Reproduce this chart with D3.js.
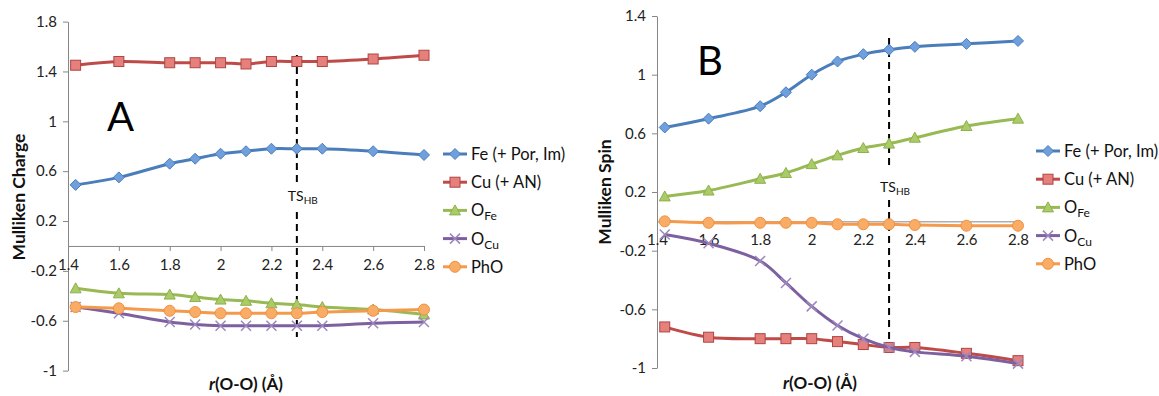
<!DOCTYPE html>
<html>
<head>
<meta charset="utf-8">
<script src="https://cdn.jsdelivr.net/npm/d3@7"></script>
<style>
  body { margin: 0; background: #fff; }
  text { font-family: Lato, "Open Sans", sans-serif; }
</style>
</head>
<body>
<div id="chart"></div>
<script>
// O-O distance (Å)
var rOO = [1.43, 1.6, 1.8, 1.9, 2.0, 2.1, 2.2, 2.3, 2.4, 2.6, 2.8];

// panel A: Mulliken charge
var chargeFe  = [0.49, 0.55, 0.66, 0.70, 0.74, 0.76, 0.78, 0.78, 0.78, 0.76, 0.73];
var chargeCu  = [1.45, 1.48, 1.47, 1.47, 1.47, 1.46, 1.48, 1.48, 1.48, 1.50, 1.53];
var chargeOFe = [-0.34, -0.38, -0.39, -0.41, -0.43, -0.44, -0.46, -0.47, -0.49, -0.51, -0.55];
var chargeOCu = [-0.49, -0.54, -0.61, -0.63, -0.64, -0.64, -0.64, -0.64, -0.64, -0.62, -0.61];
var chargePhO = [-0.49, -0.50, -0.52, -0.53, -0.54, -0.54, -0.54, -0.54, -0.53, -0.52, -0.51];

// panel B: Mulliken spin
var spinFe  = [0.64, 0.70, 0.785, 0.88, 1.0, 1.09, 1.14, 1.17, 1.19, 1.21, 1.23];
var spinCu  = [-0.72, -0.79, -0.80, -0.80, -0.80, -0.82, -0.84, -0.86, -0.86, -0.90, -0.95];
var spinOFe = [0.17, 0.21, 0.29, 0.33, 0.39, 0.45, 0.50, 0.53, 0.57, 0.65, 0.70];
var spinOCu = [-0.09, -0.15, -0.27, -0.42, -0.58, -0.71, -0.80, -0.86, -0.89, -0.92, -0.97];
var spinPhO = [0.0, -0.01, -0.01, -0.01, -0.01, -0.02, -0.02, -0.02, -0.025, -0.03, -0.03];

var xTicks = [1.4, 1.6, 1.8, 2.0, 2.2, 2.4, 2.6, 2.8];
var chargeTicks = [-1, -0.6, -0.2, 0.2, 0.6, 1, 1.4, 1.8];
var spinTicks = [-1, -0.6, -0.2, 0.2, 0.6, 1, 1.4];
var tsPosition = 2.3;

var seriesNames = ["Fe", "Cu", "OFe", "OCu", "PhO"];

var styles = {
  Fe:  { line: "#4a7ebb", fill: "#6f9fdc", stroke: "#4a7ebb", shape: "diamond" },
  Cu:  { line: "#be4b48", fill: "#e5807d", stroke: "#b04542", shape: "square" },
  OFe: { line: "#98b954", fill: "#a9cb68", stroke: "#8fb04c", shape: "triangle" },
  OCu: { line: "#7d60a0", fill: "none",    stroke: "#9d87bd", shape: "x" },
  PhO: { line: "#f59a4d", fill: "#f9ac66", stroke: "#f0913f", shape: "circle" }
};

var svg = d3.select("#chart").append("svg")
  .attr("width", 1159)
  .attr("height", 396);

function drawMarker(g, shape, st) {
  if (shape === "diamond") {
    g.append("path").attr("d", "M0,-5.5L5.5,0L0,5.5L-5.5,0Z")
      .attr("fill", st.fill).attr("stroke", st.stroke).attr("stroke-width", 1);
  } else if (shape === "square") {
    g.append("rect").attr("x", -5).attr("y", -5).attr("width", 10).attr("height", 10)
      .attr("fill", st.fill).attr("stroke", st.stroke).attr("stroke-width", 1);
  } else if (shape === "triangle") {
    g.append("path").attr("d", "M0,-5.5L5.5,4.5L-5.5,4.5Z")
      .attr("fill", st.fill).attr("stroke", st.stroke).attr("stroke-width", 1);
  } else if (shape === "x") {
    g.append("path").attr("d", "M-5,-5L5,5M5,-5L-5,5")
      .attr("stroke", st.stroke).attr("stroke-width", 1.5);
  } else {
    g.append("circle").attr("r", 5.5)
      .attr("fill", st.fill).attr("stroke", st.stroke).attr("stroke-width", 1);
  }
}

function drawPanel(p) {
  var x = d3.scaleLinear().domain([1.4, 2.8]).range(p.xRange);
  var y = d3.scaleLinear().domain(p.yDomain).range(p.yRange);

  // y axis
  var yAxis = svg.append("g")
    .attr("transform", `translate(${p.xRange[0]},0)`)
    .call(d3.axisLeft(y).tickValues(p.yTicks).tickSize(5).tickSizeOuter(0).tickPadding(6)
      .tickFormat(d => String(d)));
  yAxis.select(".domain").attr("stroke", "#868686");
  yAxis.selectAll(".tick line").attr("stroke", "#868686");
  yAxis.selectAll(".tick text").attr("font-size", 15).attr("fill", "#222")
    .attr("font-family", "Lato, sans-serif");

  // x axis crossing at zero
  var xAxis = svg.append("g")
    .attr("transform", `translate(0,${y(0)})`)
    .call(d3.axisBottom(x).tickValues(xTicks).tickSize(5).tickSizeOuter(0).tickPadding(8)
      .tickFormat(d => String(d)));
  xAxis.select(".domain").attr("stroke", "#868686");
  xAxis.selectAll(".tick line").attr("stroke", "#868686");
  xAxis.selectAll(".tick text").attr("font-size", 15).attr("fill", "#222")
    .attr("font-family", "Lato, sans-serif");

  // TS line
  var tsX = x(tsPosition);
  svg.append("line")
    .attr("x1", tsX).attr("x2", tsX).attr("y1", p.tsTop).attr("y2", p.tsGap[0])
    .attr("stroke", "#000").attr("stroke-width", 2).attr("stroke-dasharray", "7,5");
  svg.append("line")
    .attr("x1", tsX).attr("x2", tsX).attr("y1", p.tsGap[1]).attr("y2", p.tsBottom)
    .attr("stroke", "#000").attr("stroke-width", 2).attr("stroke-dasharray", "7,5");
  var ts = svg.append("text")
    .attr("x", tsX - 9).attr("y", p.tsLabelY)
    .attr("font-size", 14).attr("fill", "#111");
  ts.append("tspan").text("TS");
  ts.append("tspan").attr("font-size", 10).attr("dy", 3).text("HB");

  // series
  var line = d3.line()
    .x((d, i) => x(rOO[i]))
    .y(d => y(d))
    .curve(d3.curveCatmullRom.alpha(0.5));

  seriesNames.forEach(function(name) {
    var vals = p.data[name];
    var st = styles[name];
    svg.append("path")
      .datum(vals)
      .attr("d", line)
      .attr("fill", "none")
      .attr("stroke", st.line)
      .attr("stroke-width", 3)
      .attr("stroke-linejoin", "round");
    vals.forEach(function(v, i) {
      var g = svg.append("g").attr("transform", `translate(${x(rOO[i])},${y(v)})`);
      drawMarker(g, st.shape, st);
    });
  });

  // panel letter
  svg.append("text")
    .attr("x", p.letterPos[0]).attr("y", p.letterPos[1])
    .attr("font-size", 40).attr("fill", "#000")
    .text(p.letter);

  // axis titles
  svg.append("text")
    .attr("transform", `translate(${p.yTitlePos[0]},${p.yTitlePos[1]}) rotate(-90)`)
    .attr("text-anchor", "middle").attr("font-size", 17.5).attr("font-weight", "bold")
    .attr("fill", "#111")
    .text(p.yTitle);

  var xt = svg.append("text")
    .attr("x", p.xTitlePos[0]).attr("y", p.xTitlePos[1])
    .attr("text-anchor", "middle").attr("font-size", 17).attr("font-weight", "bold")
    .attr("fill", "#111");
  xt.append("tspan").attr("font-style", "italic").text("r");
  xt.append("tspan").text("(O-O) (Å)");

  // legend
  var labels = {
    Fe: ["Fe (+ Por, Im)"],
    Cu: ["Cu (+ AN)"],
    OFe: ["O", "Fe"],
    OCu: ["O", "Cu"],
    PhO: ["PhO"]
  };
  seriesNames.forEach(function(name, i) {
    var ly = p.legendY + i * p.legendStep;
    var st = styles[name];
    var lg = svg.append("g").attr("transform", `translate(${p.legendX},${ly})`);
    lg.append("line").attr("x1", 0).attr("x2", 24).attr("y1", 0).attr("y2", 0)
      .attr("stroke", st.line).attr("stroke-width", 3);
    var mg = lg.append("g").attr("transform", "translate(12,0)");
    drawMarker(mg, st.shape, st);
    var t = lg.append("text").attr("x", 28).attr("y", 6)
      .attr("font-size", 16.5).attr("fill", "#111");
    t.append("tspan").text(labels[name][0]);
    if (labels[name][1]) {
      t.append("tspan").attr("font-size", 12).attr("dy", 4).text(labels[name][1]);
    }
  });
}

drawPanel({
  xRange: [68, 424],
  yDomain: [-1, 1.8],
  yRange: [370.6, 21.6],
  yTicks: chargeTicks,
  tsTop: 55, tsGap: [183, 212], tsBottom: 337, tsLabelY: 201,
  data: { Fe: chargeFe, Cu: chargeCu, OFe: chargeOFe, OCu: chargeOCu, PhO: chargePhO },
  letter: "A", letterPos: [107, 131],
  yTitle: "Mulliken Charge", yTitlePos: [25, 197],
  xTitlePos: [246, 390],
  legendX: 443, legendY: 154, legendStep: 28.2
});

drawPanel({
  xRange: [657, 1018],
  yDomain: [-1, 1.4],
  yRange: [368, 16],
  yTicks: spinTicks,
  tsTop: 38, tsGap: [168, 200], tsBottom: 347, tsLabelY: 192,
  data: { Fe: spinFe, Cu: spinCu, OFe: spinOFe, OCu: spinOCu, PhO: spinPhO },
  letter: "B", letterPos: [697, 75],
  yTitle: "Mulliken Spin", yTitlePos: [611, 192],
  xTitlePos: [820, 389],
  legendX: 1036, legendY: 151, legendStep: 28.2
});
</script>
</body>
</html>
